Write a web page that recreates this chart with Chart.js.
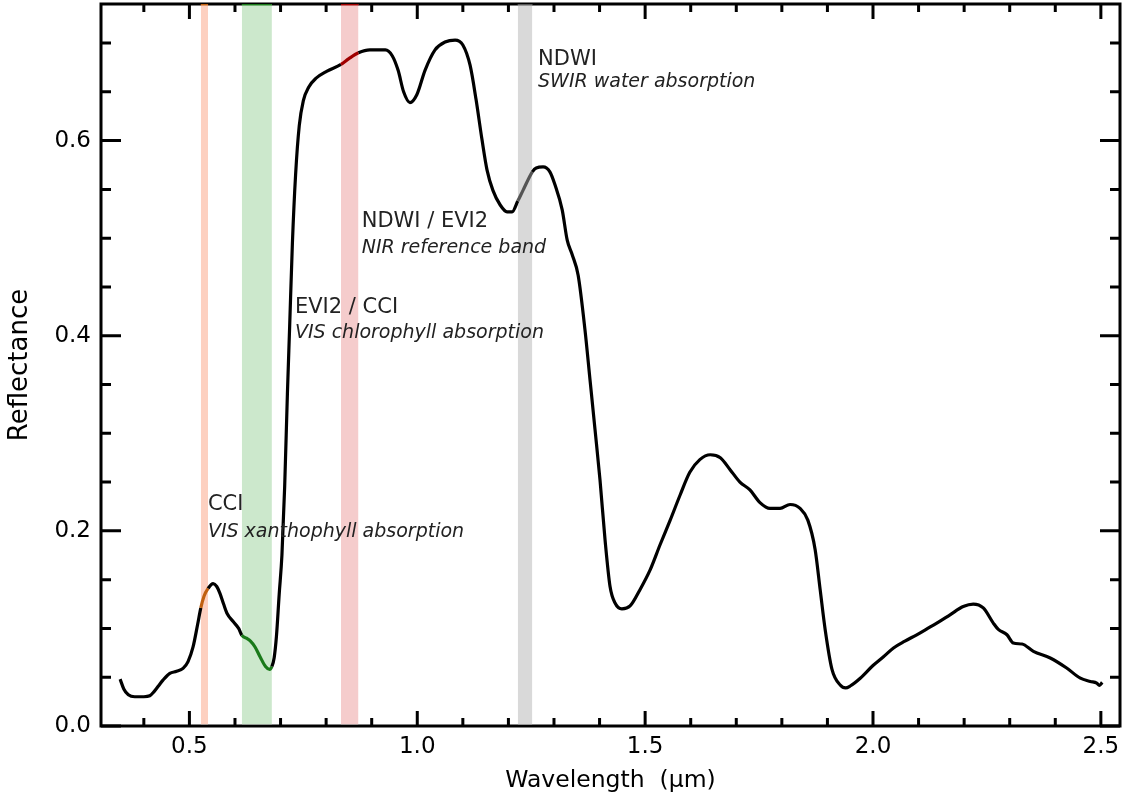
<!DOCTYPE html>
<html>
<head>
<meta charset="utf-8">
<script src="https://cdn.jsdelivr.net/npm/chart.js@4.4.1/dist/chart.umd.min.js"></script>
<style>
html,body{margin:0;padding:0;background:#fff;}
canvas{display:block;}
</style>
</head>
<body>
<canvas id="c" width="1123" height="801"></canvas>
<script>
// ---- data ----
const wavelength = [0.348,0.356,0.366,0.380,0.400,0.413,0.422,0.432,0.442,0.457,0.472,0.486,0.497,0.508,0.518,0.525,0.532,0.541,0.552,0.560,0.567,0.575,0.583,0.596,0.608,0.615,0.625,0.634,0.644,0.655,0.667,0.676,0.681,0.686,0.691,0.697,0.703,0.709,0.715,0.720,0.726,0.733,0.741,0.750,0.762,0.778,0.801,0.8325,0.850,0.871,0.896,0.930,0.945,0.958,0.970,0.984,0.999,1.017,1.039,1.061,1.083,1.100,1.116,1.129,1.142,1.153,1.166,1.182,1.197,1.208,1.2205,1.232,1.2525,1.261,1.276,1.291,1.302,1.318,1.329,1.340,1.353,1.368,1.379,1.390,1.401,1.412,1.423,1.434,1.449,1.467,1.489,1.511,1.533,1.555,1.577,1.598,1.620,1.643,1.665,1.686,1.708,1.730,1.752,1.774,1.796,1.818,1.840,1.857,1.873,1.884,1.895,1.910,1.928,1.940,1.950,1.972,2.000,2.023,2.045,2.070,2.096,2.120,2.140,2.169,2.198,2.220,2.242,2.264,2.275,2.294,2.308,2.327,2.352,2.389,2.425,2.455,2.477,2.491,2.497,2.503];
const reflectance = [0.048,0.038,0.032,0.030,0.030,0.031,0.035,0.041,0.047,0.054,0.056,0.059,0.066,0.081,0.104,0.121,0.133,0.141,0.146,0.143,0.136,0.125,0.115,0.107,0.100,0.093,0.090,0.087,0.081,0.071,0.061,0.058,0.061,0.070,0.092,0.135,0.175,0.245,0.340,0.410,0.495,0.565,0.615,0.641,0.655,0.664,0.671,0.678,0.684,0.690,0.693,0.693,0.687,0.672,0.650,0.639,0.647,0.672,0.693,0.701,0.703,0.698,0.677,0.642,0.601,0.570,0.549,0.534,0.527,0.527,0.538,0.549,0.568,0.572,0.573,0.568,0.555,0.529,0.498,0.483,0.462,0.406,0.355,0.304,0.252,0.191,0.143,0.126,0.120,0.123,0.140,0.160,0.186,0.211,0.237,0.260,0.273,0.278,0.275,0.263,0.250,0.242,0.229,0.223,0.223,0.227,0.223,0.211,0.181,0.140,0.099,0.058,0.042,0.039,0.041,0.049,0.062,0.071,0.080,0.087,0.0935,0.100,0.1055,0.114,0.1225,0.125,0.121,0.1055,0.099,0.0935,0.085,0.084,0.0765,0.0697,0.0594,0.049,0.0457,0.044,0.0416,0.0447];

const bandStart = [0.525, 0.615, 0.8325, 1.2205];
const bandEnd   = [0.541, 0.681, 0.871, 1.2525];
const bandFill  = ['#fdd0c0', '#cce8cc', '#f5cccc', '#d9d9d9'];
const bandLine  = ['#c06010', '#1a7a1a', '#a00000', '#555555'];

const annotTitles = ['CCI', 'EVI2 / CCI', 'NDWI / EVI2', 'NDWI'];
const annotSubs = ['VIS xanthophyll absorption', 'VIS chlorophyll absorption', 'NIR reference band', 'SWIR water absorption'];
const annotX  = [0.5406, 0.7316, 0.878, 1.265];
const annotY1 = [0.2216, 0.4232, 0.5116, 0.6775];
const annotY2 = [0.194, 0.3975, 0.4846, 0.6553];

const X_MIN = 0.306, X_MAX = 2.542, Y_MIN = 0, Y_MAX = 0.74;

// ---- helpers ----
function isMult(v, step){ const r = v/step; return Math.abs(r - Math.round(r)) < 1e-6; }
function segColor(ctx){
  const m = (ctx.p0.parsed.x + ctx.p1.parsed.x)/2;
  for (let i=0;i<bandStart.length;i++){
    if (m > bandStart[i] && m < bandEnd[i]) return bandLine[i];
  }
  return '#000';
}

const curve = wavelength.map((w,i)=>({x:w, y:reflectance[i]}));
const datasets = [{
  data: curve,
  borderColor: '#000',
  borderWidth: 3.2,
  pointRadius: 0,
  cubicInterpolationMode: 'monotone',
  segment: { borderColor: segColor },
  order: 0
}];
bandStart.forEach((s,i)=>{
  datasets.push({
    data: [{x:s, y:Y_MAX}, {x:bandEnd[i], y:Y_MAX}],
    borderColor: bandLine[i],
    borderWidth: 3,
    backgroundColor: bandFill[i],
    fill: {target: {value: 0.0017}},
    pointRadius: 0,
    order: 1
  });
});

const framePlugin = {
  id: 'frame',
  beforeDatasetsDraw(chart){
    const {ctx, chartArea:a, scales:{x,y}} = chart;
    ctx.save();
    ctx.strokeStyle = '#000';
    ctx.lineWidth = 3;
    ctx.strokeRect(a.left, a.top, a.right-a.left, a.bottom-a.top);
    ctx.beginPath();
    x.ticks.forEach(t=>{
      const px = x.getPixelForValue(t.value);
      const L = isMult(t.value,0.5) ? 15 : 8;
      ctx.moveTo(px, a.bottom); ctx.lineTo(px, a.bottom - L);
      ctx.moveTo(px, a.top); ctx.lineTo(px, a.top + L);
    });
    y.ticks.forEach(t=>{
      const py = y.getPixelForValue(t.value);
      const L = isMult(t.value,0.2) ? 20 : 10;
      ctx.moveTo(a.left, py); ctx.lineTo(a.left + L, py);
      ctx.moveTo(a.right, py); ctx.lineTo(a.right - L, py);
    });
    ctx.stroke();
    ctx.restore();
  },
  afterDatasetsDraw(chart){
    const {ctx, scales:{x,y}} = chart;
    ctx.save();
    ctx.fillStyle = '#222';
    ctx.textAlign = 'left';
    ctx.textBaseline = 'alphabetic';
    annotTitles.forEach((t,i)=>{
      const px = x.getPixelForValue(annotX[i]);
      ctx.font = '21px "DejaVu Sans"';
      ctx.fillText(t, px, y.getPixelForValue(annotY1[i]));
      ctx.font = 'italic 19px "DejaVu Sans"';
      ctx.fillText(annotSubs[i], px, y.getPixelForValue(annotY2[i]));
    });
    ctx.restore();
  }
};

const tickFont = {family: 'DejaVu Sans', size: 23};
new Chart(document.getElementById('c'), {
  type: 'line',
  data: { datasets },
  options: {
    responsive: false,
    animation: false,
    layout: { padding: {top: 4, right: 3, left: 0, bottom: 0} },
    plugins: { legend: {display: false}, tooltip: {enabled: false} },
    scales: {
      x: {
        type: 'linear', min: X_MIN, max: X_MAX,
        afterFit(s){ s.height = 75; s.paddingLeft = 0; s.paddingRight = 0; },
        grid: {display: false, drawTicks: false},
        border: {display: false},
        ticks: {
          stepSize: 0.1, includeBounds: false, autoSkip: false, maxRotation: 0,
          padding: 7, color: '#000', font: tickFont,
          callback: v => isMult(v, 0.5) ? v.toFixed(1) : ''
        },
        title: {display: true, text: 'Wavelength  (μm)', color: '#000', font: {family: 'DejaVu Sans', size: 23.5}, padding: {top: 0, bottom: 6}}
      },
      y: {
        type: 'linear', min: Y_MIN, max: Y_MAX,
        afterFit(s){ s.width = 101; s.paddingTop = 0; s.paddingBottom = 0; },
        grid: {display: false, drawTicks: false},
        border: {display: false},
        ticks: {
          stepSize: 0.05, includeBounds: false, autoSkip: false,
          padding: 10, color: '#000', font: tickFont,
          callback: v => isMult(v, 0.2) ? v.toFixed(1) : ''
        },
        title: {display: true, text: 'Reflectance', color: '#000', font: {family: 'DejaVu Sans', size: 26}, padding: {top: 5, bottom: 0}}
      }
    }
  },
  plugins: [framePlugin]
});
</script>
</body>
</html>
